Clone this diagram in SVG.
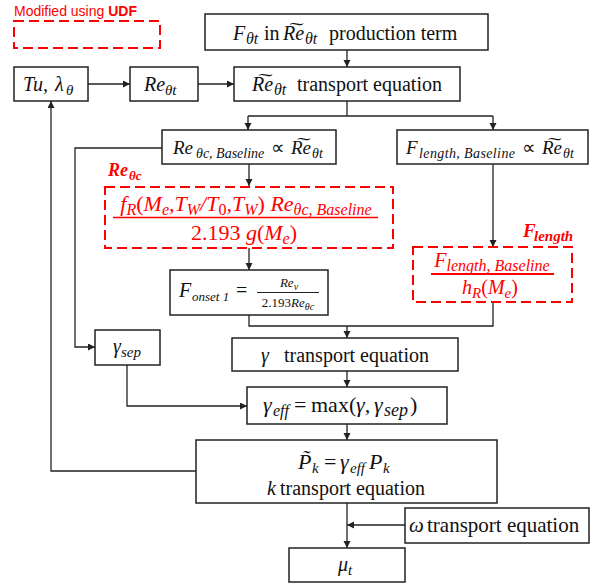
<svg xmlns="http://www.w3.org/2000/svg" width="591" height="583" viewBox="0 0 591 583">
<style>
text{font-family:"Liberation Serif","Times New Roman",serif;fill:#111}
.mi{font-style:italic}
.up{font-style:normal}
.red{fill:#f00}
.b{font-weight:bold}
.box{fill:#fff;stroke:#222;stroke-width:1.5}
.rbox{fill:none;stroke:#f00;stroke-width:2;stroke-dasharray:10 5}
.ln{fill:none;stroke:#222;stroke-width:1.3}
.tl{font-size:20px}
</style>
<defs>
<marker id="ah" markerUnits="userSpaceOnUse" markerWidth="8" markerHeight="8" refX="7" refY="3.5" orient="auto">
<path d="M0,0 L7,3.5 L0,7 z" fill="#222"/>
</marker>
</defs>

<g id="legend">
<text x="14" y="16" style="font-family:'Liberation Sans',Arial,sans-serif;font-size:14px" class="red">Modified using <tspan class="b">UDF</tspan></text>
<rect x="14" y="21" width="146" height="27" class="rbox"/>
</g>

<g id="connectors">
<line x1="347" y1="50" x2="347" y2="67" class="ln" marker-end="url(#ah)"/>
<line x1="88" y1="84" x2="130" y2="84" class="ln" marker-end="url(#ah)"/>
<line x1="198" y1="84" x2="234" y2="84" class="ln" marker-end="url(#ah)"/>
<polyline points="347,101 347,116" class="ln"/>
<polyline points="248,116 493,116" class="ln"/>
<line x1="248" y1="116" x2="248" y2="130" class="ln" marker-end="url(#ah)"/>
<line x1="493" y1="116" x2="493" y2="130" class="ln" marker-end="url(#ah)"/>
<polyline points="162,148 75,148 75,347 95,347" class="ln" marker-end="url(#ah)"/>
<line x1="249" y1="164" x2="249" y2="186" class="ln" marker-end="url(#ah)"/>
<line x1="249" y1="248" x2="249" y2="270" class="ln" marker-end="url(#ah)"/>
<line x1="493" y1="164" x2="493" y2="247" class="ln" marker-end="url(#ah)"/>
<polyline points="249,315 249,326 493,326 493,302" class="ln"/>
<line x1="347" y1="326" x2="347" y2="338" class="ln" marker-end="url(#ah)"/>
<line x1="347" y1="371" x2="347" y2="387" class="ln" marker-end="url(#ah)"/>
<polyline points="127,365 127,406 247,406" class="ln" marker-end="url(#ah)"/>
<line x1="347" y1="424" x2="347" y2="440" class="ln" marker-end="url(#ah)"/>
<polyline points="196,471 51,471 51,101" class="ln" marker-end="url(#ah)"/>
<line x1="347" y1="503" x2="347" y2="548" class="ln" marker-end="url(#ah)"/>
<line x1="405" y1="525" x2="347" y2="525" class="ln" marker-end="url(#ah)"/>
</g>

<g id="production">
<rect x="205" y="14" width="283" height="36" class="box"/>
<text class="tl"><tspan x="233" y="40" class="mi">F</tspan><tspan x="246" y="44" class="mi" font-size="16">θt</tspan><tspan x="264" y="40">in</tspan><tspan x="283" y="40" class="mi">R͠e</tspan><tspan x="305" y="44" class="mi" font-size="16">θt</tspan><tspan x="329" y="40">production term</tspan></text>
</g>

<g id="tu">
<rect x="14" y="67" width="74" height="34" class="box"/>
<text class="tl mi"><tspan x="23" y="91">Tu,</tspan><tspan x="55" y="91">λ</tspan><tspan x="66" y="95" font-size="15">θ</tspan></text>
</g>

<g id="ret">
<rect x="130" y="67" width="68" height="34" class="box"/>
<text class="tl mi"><tspan x="144" y="91">Re</tspan><tspan x="165" y="95" font-size="15">θt</tspan></text>
</g>

<g id="ret-transport">
<rect x="234" y="67" width="226" height="34" class="box"/>
<text class="tl"><tspan x="252" y="91" class="mi">R͠e</tspan><tspan x="274" y="95" class="mi" font-size="16">θt</tspan><tspan x="297" y="91">transport equation</tspan></text>
</g>

<g id="rec-baseline">
<rect x="162" y="130" width="174" height="34" class="box"/>
<text font-size="19"><tspan x="173" y="154" class="mi">Re</tspan><tspan x="196" y="158" class="mi" font-size="14">θc, Baseline</tspan><tspan x="271" y="154">∝</tspan><tspan x="291" y="154" class="mi">R͠e</tspan><tspan x="312" y="158" class="mi" font-size="14">θt</tspan></text>
</g>

<g id="flength-baseline">
<rect x="397" y="130" width="191" height="34" class="box"/>
<text font-size="19"><tspan x="406" y="154" class="mi">F</tspan><tspan x="419" y="158" class="mi" font-size="14" textLength="96">length, Baseline</tspan><tspan x="522" y="154">∝</tspan><tspan x="542" y="154" class="mi">R͠e</tspan><tspan x="563" y="158" class="mi" font-size="14">θt</tspan></text>
</g>

<g id="rec-udf">
<text class="red mi b" font-size="18"><tspan x="108" y="176">Re</tspan><tspan x="129" y="180" font-size="13">θc</tspan></text>
<rect x="105" y="187" width="288" height="61" class="rbox"/>
<text class="red mi" font-size="22" text-anchor="middle" x="246" y="211">f<tspan font-size="16" dy="4">R</tspan><tspan dy="-4" class="up">(</tspan>M<tspan font-size="16" dy="4">e</tspan><tspan dy="-4">,T</tspan><tspan font-size="16" dy="4">W</tspan><tspan dy="-4">/T</tspan><tspan font-size="16" dy="4" class="up">0</tspan><tspan dy="-4">,T</tspan><tspan font-size="16" dy="4">W</tspan><tspan dy="-4" class="up">) </tspan>Re<tspan font-size="16" dy="4">θc, Baseline</tspan></text>
<line x1="113" y1="217.5" x2="378" y2="217.5" stroke="#f00" stroke-width="1.3"/>
<text class="red" font-size="22" text-anchor="middle" x="244" y="240">2.193 <tspan class="mi">g</tspan>(<tspan class="mi">M</tspan><tspan class="mi" font-size="16" dy="4">e</tspan><tspan dy="-4">)</tspan></text>
</g>

<g id="fonset">
<rect x="170" y="270" width="158" height="45" class="box"/>
<text font-size="20"><tspan x="179" y="297" class="mi">F</tspan><tspan x="192" y="301" class="mi" font-size="13">onset 1</tspan><tspan x="236" y="297">=</tspan></text>
<text class="mi" font-size="13" text-anchor="middle" x="289" y="287">Re<tspan font-size="10" dy="3">ν</tspan></text>
<line x1="257" y1="292.5" x2="319" y2="292.5" stroke="#222" stroke-width="1"/>
<text font-size="13" text-anchor="middle" x="288" y="307">2.193<tspan class="mi">Re</tspan><tspan class="mi" font-size="10" dy="3">θc</tspan></text>
</g>

<g id="flength-udf">
<text class="red mi b" font-size="19"><tspan x="523" y="237">F</tspan><tspan x="534" y="241" font-size="15">length</tspan></text>
<rect x="413" y="247" width="159" height="55" class="rbox"/>
<text class="red mi" font-size="20" text-anchor="middle" x="492" y="267">F<tspan font-size="16" dy="4">length, Baseline</tspan></text>
<line x1="431" y1="274" x2="554" y2="274" stroke="#f00" stroke-width="2"/>
<text class="red mi" font-size="20" text-anchor="middle" x="490" y="294">h<tspan font-size="15" dy="4">R</tspan><tspan dy="-4" class="up">(</tspan>M<tspan font-size="15" dy="4">e</tspan><tspan dy="-4" class="up">)</tspan></text>
</g>

<g id="gamma-sep">
<rect x="95" y="330" width="65" height="35" class="box"/>
<text class="mi" font-size="20" text-anchor="middle" x="127" y="353">γ<tspan font-size="15" dy="4">sep</tspan></text>
</g>

<g id="gamma-transport">
<rect x="232" y="338" width="226" height="33" class="box"/>
<text font-size="20"><tspan x="261" y="362" class="mi">γ</tspan><tspan x="284" y="362">transport equation</tspan></text>
</g>

<g id="gamma-eff">
<rect x="247" y="387" width="200" height="37" class="box"/>
<text font-size="22"><tspan x="263" y="412" class="mi">γ</tspan><tspan x="273" y="416" class="mi" font-size="16">eff</tspan><tspan x="294" y="412">=</tspan><tspan x="311" y="412">max(</tspan><tspan x="356" y="412" class="mi">γ,</tspan><tspan x="374" y="412" class="mi">γ</tspan><tspan x="384" y="416" class="mi" font-size="18">sep</tspan><tspan x="410" y="412">)</tspan></text>
</g>

<g id="pk">
<rect x="196" y="440" width="301" height="63" class="box"/>
<text font-size="22"><tspan x="298" y="469" class="mi">P̃</tspan><tspan x="312" y="473" class="mi" font-size="15">k</tspan><tspan x="324" y="469">=</tspan><tspan x="340" y="469" class="mi">γ</tspan><tspan x="350" y="473" class="mi" font-size="15">eff</tspan><tspan x="369" y="469" class="mi">P</tspan><tspan x="383" y="473" class="mi" font-size="15">k</tspan></text>
<text font-size="20"><tspan x="267" y="495" class="mi">k</tspan><tspan x="280" y="495">transport equation</tspan></text>
</g>

<g id="omega">
<rect x="405" y="508" width="184" height="35" class="box"/>
<text font-size="21"><tspan x="409" y="532" class="mi">ω</tspan><tspan x="427" y="532">transport equation</tspan></text>
</g>

<g id="mut">
<rect x="289" y="548" width="116" height="34" class="box"/>
<text class="mi" font-size="20" text-anchor="middle" x="345" y="571">μ<tspan font-size="15" dy="4">t</tspan></text>
</g>
</svg>
